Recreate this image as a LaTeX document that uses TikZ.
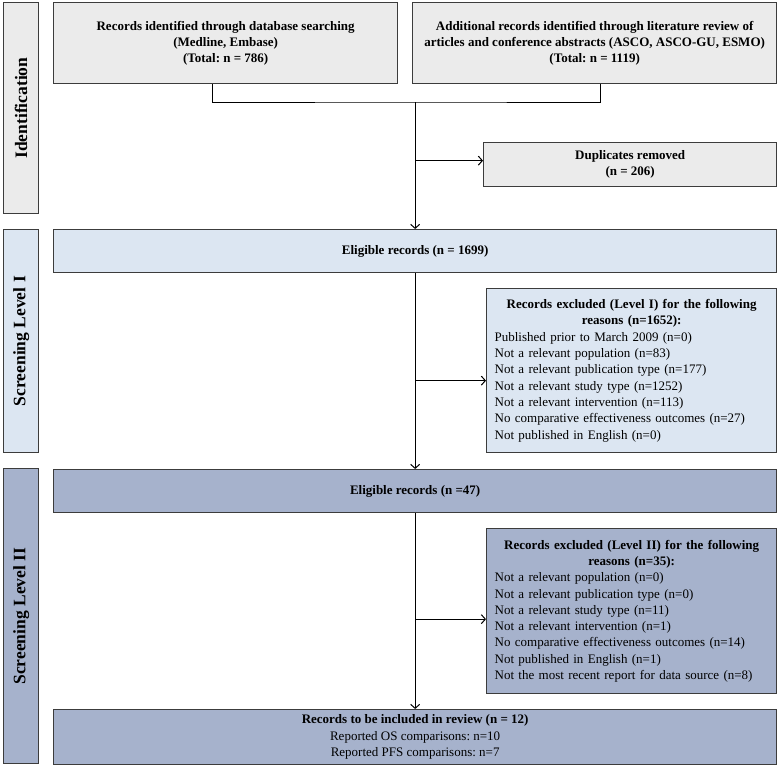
\documentclass[tikz,border=0pt]{standalone}
\usepackage{fontspec}
\setmainfont{Liberation Serif}
\usetikzlibrary{arrows.meta}
\definecolor{idgray}{RGB}{235,235,235}
\definecolor{lvlone}{RGB}{220,230,242}
\definecolor{lvltwo}{RGB}{166,178,204}
\definecolor{edgegray}{RGB}{60,60,60}
\tikzset{
    flowbox/.style={
        draw=edgegray, line width=1.3pt, inner sep=0pt, anchor=north west,
        align=center, font=\fontsize{13}{16.3}\selectfont
    },
    listbox/.style={flowbox, text width=274, align=left},
    bandlabel/.style={rotate=90, font=\fontsize{17.5}{19}\selectfont\bfseries},
    flowline/.style={line width=1pt, -{Straight Barb[length=4pt,width=9pt]}}
}
\frenchspacing

\begin{document}
\begin{tikzpicture}[x=1pt, y=-1pt]
    % Init
    \useasboundingbox (0,0) rectangle (777,766);
    % 1. side bands
    \node[flowbox, fill=idgray, minimum width=35, minimum height=211] (bandid) at (3,2) {};
    \node[flowbox, fill=lvlone, minimum width=35, minimum height=223] (bandone) at (3,229) {};
    \node[flowbox, fill=lvltwo, minimum width=35, minimum height=295] (bandtwo) at (3,468) {};
    \node[bandlabel] (labelid) at (bandid.center) {Identification};
    \node[bandlabel] (labelone) at (bandone.center) {Screening Level I};
    \node[bandlabel] (labeltwo) at (bandtwo.center) {Screening Level II};
    % 2. identification boxes
    \node[flowbox, fill=idgray, minimum width=344, minimum height=81] (dbsearch) at (53,2)
        {\bfseries Records identified through database searching\\
         \bfseries (Medline, Embase)\\ \bfseries (Total: n = 786)};
    \node[flowbox, fill=idgray, minimum width=364, minimum height=81] (litreview) at (412,2)
        {\bfseries Additional records identified through literature review of\\
         \bfseries articles and conference abstracts (ASCO, ASCO-GU, ESMO)\\
         \bfseries (Total: n = 1119)};
    \node[flowbox, fill=idgray, minimum width=293, minimum height=44] (dupes) at (483,142)
        {\bfseries Duplicates removed\\ \bfseries (n = 206)};
    % 3. screening level I
    \node[flowbox, fill=lvlone, minimum width=723, minimum height=43] (eligone) at (53,229)
        {\bfseries Eligible records (n = 1699)};
    \node[listbox, fill=lvlone, minimum width=290, minimum height=164] (exclone) at (486,288)
        {{\centering\bfseries Records excluded (Level I) for the following\\ reasons (n=1652):\par}
         Published prior to March 2009 (n=0)\\
         Not a relevant population (n=83)\\
         Not a relevant publication type (n=177)\\
         Not a relevant study type (n=1252)\\
         Not a relevant intervention (n=113)\\
         No comparative effectiveness outcomes (n=27)\\
         Not published in English (n=0)};
    % 4. screening level II
    \node[flowbox, fill=lvltwo, minimum width=723, minimum height=43] (eligtwo) at (53,469)
        {\bfseries Eligible records (n =47)};
    \node[listbox, fill=lvltwo, minimum width=290, minimum height=165] (excltwo) at (486,528)
        {{\centering\bfseries Records excluded (Level II) for the following\\ reasons (n=35):\par}
         Not a relevant population (n=0)\\
         Not a relevant publication type (n=0)\\
         Not a relevant study type (n=11)\\
         Not a relevant intervention (n=1)\\
         No comparative effectiveness outcomes (n=14)\\
         Not published in English (n=1)\\
         Not the most recent report for data source (n=8)};
    \node[flowbox, fill=lvltwo, minimum width=723, minimum height=55] (included) at (53,709)
        {\bfseries Records to be included in review (n = 12)\\
         Reported OS comparisons: n=10\\ Reported PFS comparisons: n=7};
    % 5. connectors
    \coordinate (merge) at (eligone.north |- 0,102);
    \coordinate (dupfork) at ([yshift=4pt]merge |- dupes.west);
    \coordinate (forkone) at ([yshift=-10pt]eligone.south |- exclone.west);
    \coordinate (forktwo) at ([yshift=-8pt]eligtwo.south |- excltwo.west);
    \draw[line width=1pt] ([xshift=-13pt]dbsearch.south) |- (merge) -| ([xshift=6pt]litreview.south);
    \draw[flowline] (merge) -- (eligone.north);
    \draw[flowline] (dupfork) -- (dupes.west |- dupfork);
    \draw[flowline] (eligone.south) -- (eligtwo.north);
    \draw[flowline] (forkone) -- (exclone.west |- forkone);
    \draw[flowline] (eligtwo.south) -- (included.north);
    \draw[flowline] (forktwo) -- (excltwo.west |- forktwo);
\end{tikzpicture}
\end{document}
